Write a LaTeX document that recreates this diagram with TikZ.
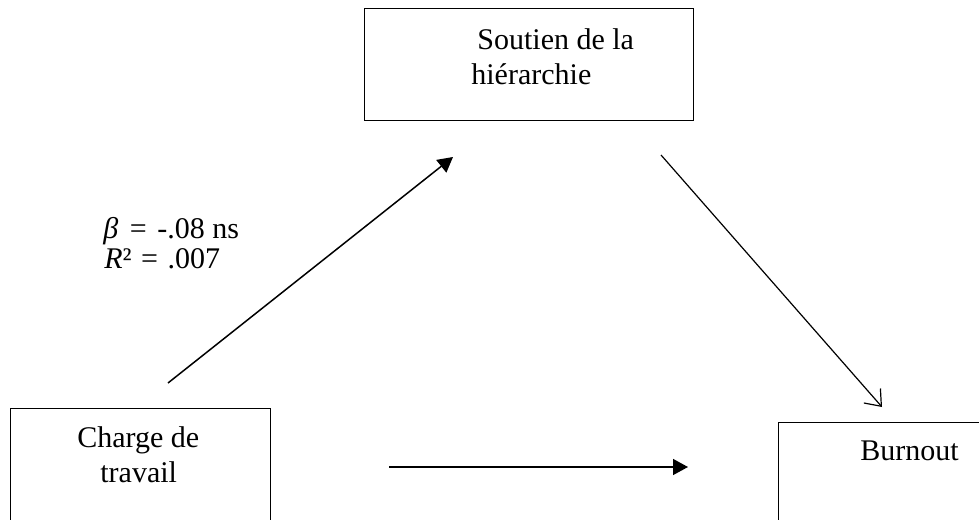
\documentclass[tikz,border=0pt]{standalone}
\usepackage{fontspec}
\setmainfont{Liberation Serif}
\usetikzlibrary{arrows.meta}
\begin{document}
\begin{tikzpicture}[x=0.5pt,y=-0.5pt,
  box/.style={draw,line width=0.6pt,rectangle,anchor=north west,inner sep=0pt},
  txt/.style={anchor=base west,inner sep=0pt,font=\fontsize{15}{17}\selectfont},
  solidarrow/.style={line width=0.75pt,-{Triangle[length=7.5pt,width=8pt]}},
  openarrow/.style={line width=0.6pt,-{Straight Barb[length=7pt,width=11pt,line width=0.6pt]}}]
\useasboundingbox (0,0) rectangle (979,519);
\clip (0,0) rectangle (979,519);
% boxes
\node[box,minimum width=164.5pt,minimum height=56pt] (soutien) at (364,8) {};
\node[box,minimum width=130pt,minimum height=75pt] (charge) at (10,408) {};
\node[box,minimum width=120pt,minimum height=75pt] (burnout) at (778,422) {};
% texts
\node[txt] (s1) at (477,50) {Soutien de la};
\node[txt] (s2) at (471,84) {hiérarchie};
\node[txt] (c1) at (77,447) {Charge de};
\node[txt] (c2) at (100,482) {travail};
\node[txt] (b1) at (860,460) {Burnout};
\node[txt] (beta) at (103,238) {\textit{β}\hspace{2pt} = \hspace{1.5pt}-.08 ns};
\node[txt] (rsq) at (104,268) {\textit{R}²\hspace{1pt} = \hspace{1pt}.007};
% connector ends
\coordinate (a1s) at (168,383);
\coordinate (a1e) at (453,157);
\coordinate (a2s) at (661,155);
\coordinate (a2e) at (882,407);
\coordinate (a3s) at (389,467);
\coordinate (a3e) at (688,467);
\draw[solidarrow] (a1s) -- (a1e);
\draw[openarrow] (a2s) -- (a2e);
\draw[solidarrow] (a3s) -- (a3e);
\end{tikzpicture}
\end{document}
